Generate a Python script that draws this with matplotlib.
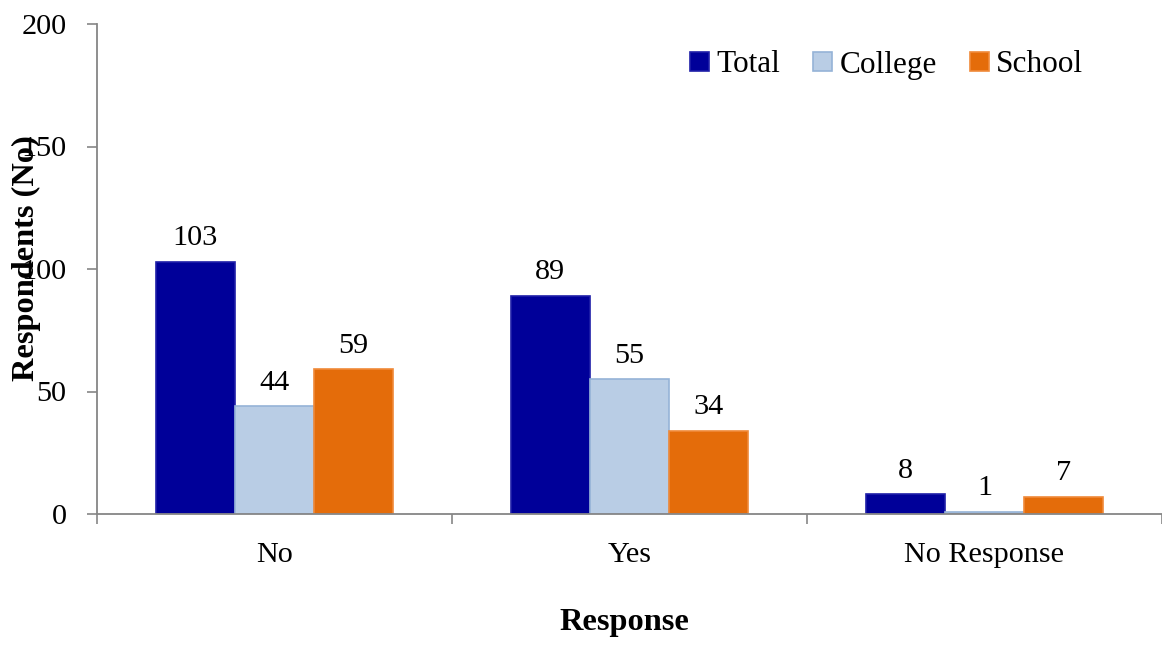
import numpy as np
import matplotlib
matplotlib.use("Agg")
import matplotlib.pyplot as plt
from matplotlib.ticker import FixedLocator, NullFormatter

plt.rcParams['font.family'] = ['Liberation Serif', 'DejaVu Serif']

categories = ["No", "Yes", "No Response"]
total = [103, 89, 8]
college = [44, 55, 1]
school = [59, 34, 7]
series_names = ["Total", "College", "School"]
y_ticks = [0, 50, 100, 150, 200]

fill_colors = ["#000099", "#B9CDE5", "#E46C0A"]
edge_colors = ["#1F1FA8", "#95B3D7", "#F08A3A"]
FS = 21.8
FS_BOLD = 23.3
FS_LEG = 22.5

fig = plt.figure(figsize=(11.62, 6.48), dpi=100)
ax = fig.add_axes([97 / 1162, 1 - 514 / 648, 1065 / 1162, (514 - 24) / 648])

x = np.arange(len(categories))
bar_w = 0.223
offsets = [-bar_w, 0, bar_w]
for vals, name, fc, ec, off in zip([total, college, school], series_names,
                                   fill_colors, edge_colors, offsets):
    bars = ax.bar(x + off, vals, width=bar_w, color=fc, edgecolor=ec,
                  linewidth=1.2, label=name, zorder=2)
    for b, v in zip(bars, vals):
        ax.annotate(str(v), (b.get_x() + b.get_width() / 2, v),
                    xytext=(0, 12), textcoords="offset points",
                    ha="center", va="baseline", fontsize=FS)

ax.set_xlim(-0.5, len(categories) - 0.5)
ax.set_ylim(0, 200)
ax.set_yticks(y_ticks)
ax.set_yticklabels([str(t) for t in y_ticks], fontsize=FS)

# category boundaries carry the tick marks; names sit at the centres
ax.xaxis.set_major_locator(FixedLocator(np.arange(-0.5, len(categories), 1.0)))
ax.xaxis.set_major_formatter(NullFormatter())
ax.xaxis.set_minor_locator(FixedLocator(x))
ax.set_xticklabels(categories, minor=True, fontsize=FS)
ax.tick_params(axis="x", which="major", length=7, width=1.2, color="#868686", direction="out")
ax.tick_params(axis="x", which="minor", length=0, pad=20)
ax.tick_params(axis="y", length=7, width=1.2, color="#868686", direction="out", pad=15)

for side in ["top", "right"]:
    ax.spines[side].set_visible(False)
for side in ["left", "bottom"]:
    ax.spines[side].set_color("#868686")
    ax.spines[side].set_linewidth(1.3)

fig.text(26 / 1162, 1 - 258 / 648, "Respondents (No)", rotation=90,
         ha="center", va="center", fontsize=FS_BOLD, fontweight="bold")
fig.text(624 / 1162, 1 - 630 / 648, "Response", ha="center", va="baseline",
         fontsize=FS_BOLD, fontweight="bold")

ax.legend(loc="upper right", bbox_to_anchor=(1096 / 1162, 1 - 38 / 648),
          bbox_transform=fig.transFigure, ncol=3, frameon=False,
          fontsize=FS_LEG, handlelength=0.6, handleheight=0.6,
          handletextpad=0.25, columnspacing=1.05, borderaxespad=0)

fig.savefig("out.png", dpi=100)
